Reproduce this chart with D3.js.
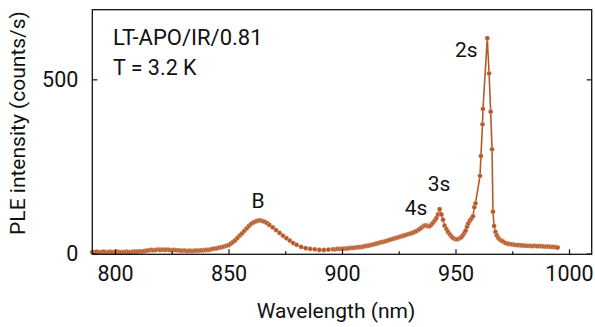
<!DOCTYPE html>
<html>
<head>
<meta charset="utf-8">
<script src="https://cdn.jsdelivr.net/npm/d3@7"></script>
<style>
  html, body { margin: 0; padding: 0; background: #fff; }
  svg { display: block; font-family: Roboto, "Noto Sans", sans-serif; }
</style>
</head>
<body>
<svg id="chart" width="595" height="327"></svg>
<script>
// PLE spectrum: excitation wavelength (nm) and intensity (counts/s)
const wavelength = [
  790,791,792,793,794,795,796,797,798,799,800,801,802,803,804,805,806,807,808,809,
  810,811,812,813,814,815,816,817,818,819,820,821,822,823,824,825,826,827,828,829,
  830,831,832,833,834,835,836,837,838,839,840,841,842,843,844,845,
  846,847,848,849,850,851,852,853,854,855,856,857,858,859,860,861,862,863,864,865,866,867,868,
  869.5,871,872.5,874,875.5,877,878.5,880,882,884,886,888,890,892,894,896,
  897,898,899,900,901,902,903,904,905,906,907,908,909,910,911,912,913,914,915,916,
  917,918,919,920,921,922,923,924,925,926,927,928,929,930,931,932,933,934,935,
  936,936.8,937.6,938.5,939.3,940.1,940.9,941.6,942.3,943.0,943.8,944.5,945.2,946.0,946.7,
  947.5,948.2,949.0,950.0,951.0,951.9,952.6,953.3,954.0,954.5,955.1,955.6,956.3,957.0,957.7,
  958.3,958.8,960.8,961.2,961.9,962.1,964.0,964.8,965.5,966.1,966.5,967.0,967.6,968.2,968.8,
  969.5,970.2,971,972,973,974,975,976,977,978,979,980,981,982,983,984,985,986,987,988,989,
  990,991,992,993,994,995
];
const intensity = [
  4,4,5,4,4,5,4,4,5,4,4,5,4,4,4,5,4,4,5,5,
  5,6,6,7,8,9,10,9,10,11,10,11,10,11,10,9,10,9,9,8,
  8,8,7,8,7,8,8,8,9,9,10,10,11,13,14,15,
  17,18,20,22,24,28,33,38,45,52,58,65,72,79,85,89,92,94,95,93,91,87,82,
  75,67,59,51,44,37,30,25,19,15,13,12,10,10,11,12,
  12,13,13,13,14,14,15,16,16,17,18,18,19,21,22,23,25,26,28,30,
  32,33,35,37,39,41,43,45,47,49,51,53,55,57,59,62,65,69,74,
  79,81,79,78,82,88,95,102,112,127,112,97,80,70,62,
  55,49,44,41,41,44,47,53,60,66,77,86,94,100,107,
  133,144,223,280,371,415,618,517,407,299,120,79,62,52,45,
  40,37,34,30,28,27,26,25,24,24,23,23,22,22,22,21,22,21,21,21,20,
  20,20,19,19,18,17
];
const xTicks = [800, 850, 900, 950, 1000];
const xMinorTicks = [825, 875, 925, 975];
const yTicks = [0, 500];
const peakLabels = ["B", "4s", "3s", "2s"];
const peakLabelPos = [[863, 93], [935.5, 82], [942.5, 130], [962, 618]];
const infoLines = ["LT-APO/IR/0.81", "T = 3.2 K"];

const color = "#b5592a";
const svg = d3.select("#chart");
const plotL = 92.3, plotR = 591.7, plotT = 9.7, plotB = 254.3;

const x = d3.scaleLinear().domain([790, 1010]).range([plotL, plotR]);
const y = d3.scaleLinear().domain([-2.3, 700]).range([plotB, plotT]);

const data = wavelength.map((w, i) => ({ w, v: intensity[i] }));

// line + markers
svg.append("path")
  .datum(data)
  .attr("fill", "none")
  .attr("stroke", color)
  .attr("stroke-width", 1.6)
  .attr("stroke-linejoin", "round")
  .attr("d", d3.line().x(d => x(d.w)).y(d => y(d.v)));

svg.append("g").selectAll("circle")
  .data(data)
  .join("circle")
  .attr("cx", d => x(d.w))
  .attr("cy", d => y(d.v))
  .attr("r", 2.4)
  .attr("fill", color)
  .attr("stroke", "#f3dccd")
  .attr("stroke-width", 0.35);

// axes with inward ticks
const tickFont = g => g.selectAll("text")
  .attr("font-size", 21.5).attr("fill", "#111")
  .attr("font-family", "Roboto, sans-serif");

const gx = svg.append("g").attr("transform", `translate(0,${plotB})`)
  .call(d3.axisBottom(x).tickValues(xTicks).tickSize(-5).tickPadding(11).tickFormat(d3.format("d")));
gx.call(tickFont);
gx.select(".domain").remove();

const gxm = svg.append("g").attr("transform", `translate(0,${plotB})`)
  .call(d3.axisBottom(x).tickValues(xMinorTicks).tickSize(-3).tickFormat(""));
gxm.select(".domain").remove();

const gy = svg.append("g").attr("transform", `translate(${plotL},0)`)
  .call(d3.axisLeft(y).tickValues(yTicks).tickSize(-5).tickPadding(14));
gy.call(tickFont);
gy.select(".domain").remove();

const gyr = svg.append("g").attr("transform", `translate(${plotR},0)`)
  .call(d3.axisRight(y).tickValues(yTicks).tickSize(-5).tickFormat(""));
gyr.select(".domain").remove();

svg.selectAll(".tick line").attr("stroke", "#111").attr("stroke-width", 1.2);

// frame
svg.append("rect")
  .attr("x", plotL).attr("y", plotT)
  .attr("width", plotR - plotL).attr("height", plotB - plotT)
  .attr("fill", "none").attr("stroke", "#111").attr("stroke-width", 1.3);

// axis titles
svg.append("text")
  .attr("x", 336).attr("y", 318)
  .attr("text-anchor", "middle").attr("font-size", 21).attr("fill", "#111")
  .text("Wavelength (nm)");

svg.append("text")
  .attr("transform", "translate(25,123) rotate(-90)")
  .attr("text-anchor", "middle").attr("font-size", 21).attr("fill", "#111")
  .text("PLE intensity (counts/s)");

// sample info
const infoSize = [22, 21.5];
svg.append("g").selectAll("text")
  .data(infoLines)
  .join("text")
  .attr("x", 113).attr("y", (d, i) => 45 + i * 30)
  .attr("font-size", (d, i) => infoSize[i]).attr("fill", "#111")
  .text(d => d);

// peak labels
const labelDx = [0, -6.5, 0.5, -16.5];
const labelDy = [-13, -10, -17.5, 19];
svg.append("g").selectAll("text")
  .data(peakLabels)
  .join("text")
  .attr("x", (d, i) => x(peakLabelPos[i][0]) + labelDx[i])
  .attr("y", (d, i) => y(peakLabelPos[i][1]) + labelDy[i])
  .attr("text-anchor", "middle").attr("font-size", 21).attr("fill", "#111")
  .text(d => d);
</script>
</body>
</html>
